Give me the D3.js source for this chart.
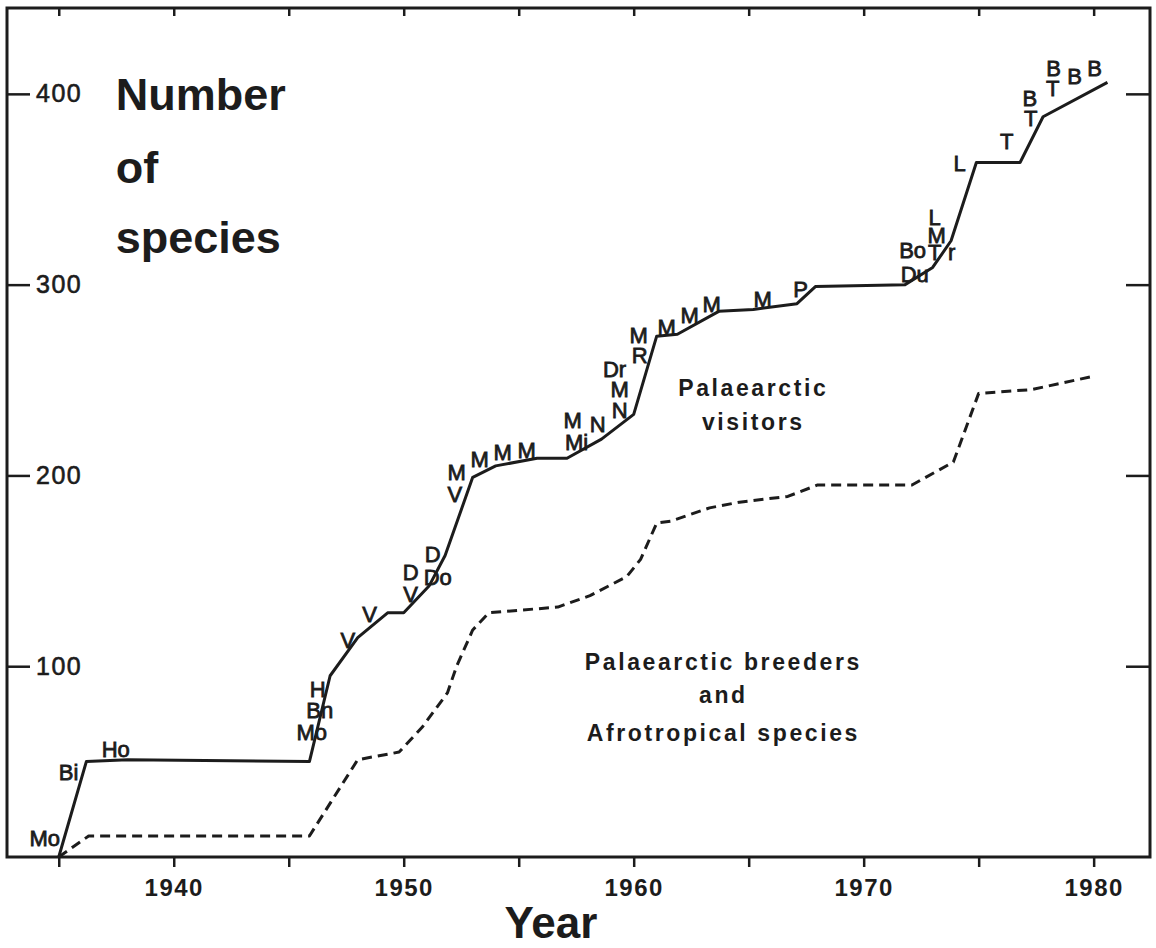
<!DOCTYPE html>
<html>
<head>
<meta charset="utf-8">
<script src="https://cdn.jsdelivr.net/npm/d3@7"></script>
<style>
  body { margin: 0; background: #fff; }
  svg text { font-family: "Liberation Sans", Arial, Helvetica, sans-serif; fill: #1c1c1c; }
</style>
</head>
<body>
<div id="chart"></div>
<script>

// cumulative species, all (solid line)
const allYears = [1935.0, 1936.2, 1938.0, 1945.9, 1946.8, 1948.0, 1949.3, 1950.0, 1951.1, 1951.8, 1953.0, 1954.0, 1955.8, 1957.1, 1958.6, 1960.0, 1961.0, 1961.9, 1963.7, 1965.2, 1967.1, 1967.9, 1971.8, 1973.0, 1973.8, 1974.9, 1976.8, 1977.8, 1980.6];
const allCounts = [0, 50, 51, 50, 95, 115, 128, 128, 142, 158, 199, 205, 209, 209, 219, 232, 273, 274, 286, 287, 290, 299, 300, 309, 323, 364, 364, 388, 406];

// palaearctic breeders + afrotropical species (dashed line)
const resYears = [1935.0, 1936.3, 1945.9, 1948.0, 1949.8, 1950.8, 1951.9, 1952.3, 1953.0, 1953.7, 1956.7, 1958.1, 1959.7, 1960.3, 1961.0, 1961.6, 1963.3, 1964.6, 1966.7, 1968.0, 1972.1, 1973.9, 1975.0, 1977.3, 1980.0];
const resCounts = [0, 11, 11, 51, 55, 68, 86, 100, 119, 128, 131, 137, 147, 156, 175, 176, 183, 186, 189, 195, 195, 207, 243, 245, 252];

// observer initials along the solid line
const labText = ['Mo', 'Bi', 'Ho', 'Mo', 'Bn', 'H', 'V', 'V', 'V', 'D', 'Do', 'D', 'V', 'M', 'M', 'M', 'M',
  'M', 'Mi', 'N', 'N', 'M', 'Dr', 'R', 'M', 'M', 'M', 'M', 'M', 'P',
  'Du', 'Bo', 'T', 'r', 'M', 'L', 'L', 'T', 'T', 'B', 'T', 'B', 'B', 'B'];
const labYears = [1934.39, 1935.43, 1937.48, 1946.0, 1946.35, 1946.26, 1947.57, 1948.52, 1950.3, 1950.3, 1951.48, 1951.26, 1952.22, 1952.3, 1953.3, 1954.3, 1955.35,
  1957.35, 1957.52, 1958.43, 1959.39, 1959.39, 1959.17, 1960.26, 1960.22, 1961.43, 1962.43, 1963.39, 1965.61, 1967.26,
  1972.22, 1972.13, 1973.09, 1973.83, 1973.17, 1973.09, 1974.17, 1976.22, 1977.26, 1977.22, 1978.22, 1978.26, 1979.17, 1980.04];
const labCounts = [5.8, 40.4, 52.4, 61.3, 72.9, 83.9, 109.5, 123.2, 133.6, 145.2, 142.6, 154.6, 186.1, 197.6, 204.4, 208.1, 209.1,
  224.8, 213.3, 222.7, 230.1, 241.1, 251.6, 258.9, 269.4, 273.6, 279.9, 285.6, 288.3, 293.5,
  301.4, 314.0, 313.0, 313.0, 321.8, 331.2, 359.6, 371.2, 383.2, 393.7, 399.0, 409.5, 405.3, 409.5];

const xTicks = [1935, 1940, 1945, 1950, 1955, 1960, 1965, 1970, 1975, 1980];
const yTicks = [100, 200, 300, 400];

const w = 1156;
const h = 948;

const x = d3.scaleLinear().domain([1932.75, 1982.45]).range([7, 1150]);
const y = d3.scaleLinear().domain([0, 445]).range([857, 8]);

const svg = d3.select('#chart').append('svg')
    .attr('width', w).attr('height', h);

const ink = '#1c1c1c';

// frame
svg.append('rect')
    .attr('x', x.range()[0]).attr('y', y.range()[1])
    .attr('width', x.range()[1] - x.range()[0])
    .attr('height', y.range()[0] - y.range()[1])
    .attr('fill', 'none').attr('stroke', ink).attr('stroke-width', 3);

// bottom axis
const gx = svg.append('g')
    .attr('transform', `translate(0,${y.range()[0]})`)
    .call(d3.axisBottom(x).tickValues(xTicks).tickSize(10).tickPadding(12)
        .tickFormat(d => d % 10 === 0 ? d : ''));
gx.select('.domain').remove();
gx.selectAll('line').attr('stroke', ink).attr('stroke-width', 2.5);
gx.selectAll('text').attr('font-size', 24).attr('font-weight', 'bold')
    .attr('letter-spacing', 1.5).attr('fill', ink);

// top ticks, inside
const gt = svg.append('g')
    .attr('transform', `translate(0,${y.range()[1]})`)
    .call(d3.axisBottom(x).tickValues(xTicks).tickSize(8).tickFormat(''));
gt.select('.domain').remove();
gt.selectAll('line').attr('stroke', ink).attr('stroke-width', 2.5);

// left axis, ticks inside with labels
const gy = svg.append('g')
    .attr('transform', `translate(${x.range()[0]},0)`)
    .call(d3.axisRight(y).tickValues(yTicks).tickSize(23).tickPadding(6));
gy.select('.domain').remove();
gy.selectAll('line').attr('stroke', ink).attr('stroke-width', 2.5);
gy.selectAll('text').attr('font-size', 25).attr('letter-spacing', 1.5).attr('fill', ink)
    .attr('stroke', ink).attr('stroke-width', 0.6);

// right ticks
const gr = svg.append('g')
    .attr('transform', `translate(${x.range()[1]},0)`)
    .call(d3.axisLeft(y).tickValues(yTicks).tickSize(24).tickFormat(''));
gr.select('.domain').remove();
gr.selectAll('line').attr('stroke', ink).attr('stroke-width', 2.5);

const line = d3.line().x(d => x(d[0])).y(d => y(d[1]));

svg.append('path')
    .datum(d3.zip(resYears, resCounts))
    .attr('d', line)
    .attr('fill', 'none').attr('stroke', ink).attr('stroke-width', 3)
    .attr('stroke-dasharray', '10,6').attr('stroke-linejoin', 'round');

svg.append('path')
    .datum(d3.zip(allYears, allCounts))
    .attr('d', line)
    .attr('fill', 'none').attr('stroke', ink).attr('stroke-width', 3)
    .attr('stroke-linejoin', 'round');

svg.selectAll('text.lab')
    .data(d3.zip(labText, labYears, labCounts))
    .join('text')
    .attr('class', 'lab')
    .attr('x', d => x(d[1]))
    .attr('y', d => y(d[2]))
    .attr('text-anchor', 'middle')
    .attr('font-size', 22)
    .attr('stroke', ink).attr('stroke-width', 0.8)
    .text(d => d[0]);

// y title
const ttl = svg.append('g').attr('font-size', 45).attr('font-weight', 'bold');
[['Number', 391.5], ['of', 353.2], ['species', 316.6]].forEach(t => {
    ttl.append('text').attr('x', x(1937.48)).attr('y', y(t[1])).text(t[0]);
});

// x title
svg.append('text')
    .attr('x', x(1956.4)).attr('y', 938)
    .attr('text-anchor', 'middle')
    .attr('font-size', 44).attr('font-weight', 'bold')
    .text('Year');

// series notes
const notes = svg.append('g').attr('font-size', 23).attr('font-weight', 'bold')
    .attr('letter-spacing', 2.6).attr('text-anchor', 'middle');
notes.append('text').attr('x', x(1965.2)).attr('y', y(241.6)).text('Palaearctic');
notes.append('text').attr('x', x(1965.2)).attr('y', y(223.8)).text('visitors');
notes.append('text').attr('x', x(1963.9)).attr('y', y(98)).text('Palaearctic  breeders');
notes.append('text').attr('x', x(1963.9)).attr('y', y(80.7)).text('and');
notes.append('text').attr('x', x(1963.9)).attr('y', y(60.8)).text('Afrotropical species');

</script>
</body>
</html>
